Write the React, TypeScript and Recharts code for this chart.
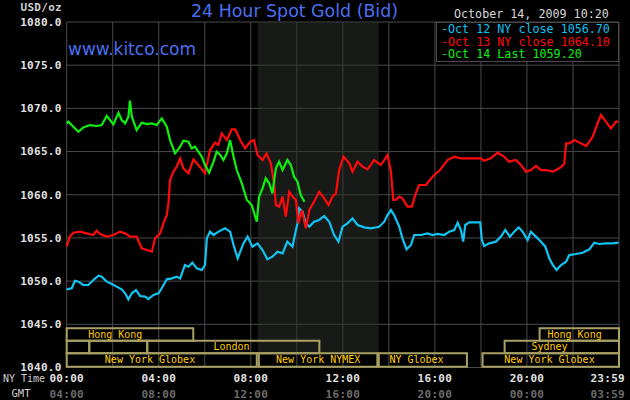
import React from "react";
import { LineChart, Line, XAxis, YAxis, CartesianGrid, ReferenceArea, Legend } from "recharts";

// hour ticks (grid every 2h, labels every 4h)
const hourTicks = [0, 2, 4, 6, 8, 10, 12, 14, 16, 18, 20, 22, 24];
const nyTimeLabels = ["00:00", "04:00", "08:00", "12:00", "16:00", "20:00", "23:59"];
const gmtLabels = ["04:00", "08:00", "12:00", "16:00", "20:00", "00:00", "03:59"];
const priceTicks = [1040, 1045, 1050, 1055, 1060, 1065, 1070, 1075, 1080];

const legendNames = ["Oct 12 NY close 1056.70", "Oct 13 NY close 1064.10", "Oct 14 Last 1059.20"];

const oct12Hours = [
  0, 0.22, 0.36, 0.51, 0.72, 0.94, 1.16, 1.38, 1.52, 1.74, 1.96, 2.17, 2.39, 2.54, 2.68, 2.83, 3.01, 3.19, 3.41,
  3.55, 3.77, 3.99, 4.13, 4.35, 4.57, 4.78, 4.93, 5.14, 5.29, 5.46, 5.65, 5.87, 6.01, 6.09, 6.23, 6.38, 6.6, 6.88,
  7.1, 7.25, 7.43, 7.68, 7.86, 8.07, 8.29, 8.51, 8.72, 8.94, 9.16, 9.38, 9.59, 9.81, 9.93, 10.03, 10.1, 10.25,
  10.39, 10.54, 10.75, 10.97, 11.19, 11.41, 11.62, 11.81, 11.99, 12.2, 12.42, 12.64, 12.93, 13.22, 13.58, 13.8,
  13.94, 14.09, 14.23, 14.45, 14.59, 14.77, 14.96, 15.1, 15.39, 15.68, 15.9, 16.12, 16.41, 16.62, 16.84, 16.99,
  17.13, 17.23, 17.32, 17.49, 17.97, 18.04, 18.14, 18.36, 18.65, 18.87, 19.06, 19.26, 19.45, 19.64, 19.81, 20.03,
  20.17, 20.39, 20.61, 20.8, 20.97, 21.12, 21.29, 21.48, 21.7, 21.84, 22.13, 22.42, 22.71, 22.93, 23.14, 23.43,
  23.72, 23.98,
];
const oct12Prices = [
  1049.05, 1049.17, 1050.05, 1049.94, 1049.55, 1049.55, 1050.13, 1050.63, 1050.52, 1049.94, 1049.67, 1049.36,
  1049.05, 1048.59, 1047.89, 1048.59, 1048.97, 1048.28, 1048.2, 1047.93, 1048.4, 1048.59, 1049.17, 1050.21,
  1050.32, 1050.52, 1050.32, 1051.87, 1051.67, 1052.14, 1051.48, 1051.29, 1051.87, 1054.95, 1055.73, 1055.34,
  1055.73, 1056.11, 1055.73, 1054.18, 1052.64, 1054.37, 1055.15, 1053.99, 1054.37, 1053.6, 1052.52, 1052.83,
  1053.41, 1053.22, 1054.57, 1053.99, 1055.53, 1056.69, 1058.43, 1058.04, 1056.69, 1056.3, 1056.88, 1057.08,
  1057.54, 1056.88, 1055.34, 1054.57, 1056.3, 1056.69, 1057.27, 1056.5, 1056.23, 1056.11, 1056.3, 1056.88,
  1057.65, 1058.23, 1057.65, 1056.3, 1054.95, 1053.68, 1054.18, 1055.34, 1055.34, 1055.53, 1055.34, 1055.46,
  1055.34, 1055.73, 1055.92, 1056.77, 1055.92, 1054.57, 1056.5, 1056.81, 1056.81, 1054.76, 1054.07, 1054.37,
  1054.57, 1055.15, 1055.92, 1055.15, 1055.73, 1056.23, 1055.73, 1054.76, 1055.73, 1055.15, 1054.57, 1053.99,
  1052.64, 1051.87, 1051.29, 1051.87, 1052.25, 1053.02, 1053.14, 1053.29, 1053.68, 1054.45, 1054.3, 1054.37,
  1054.37, 1054.45,
];

const oct13Hours = [
  0, 0.14, 0.29, 0.58, 0.87, 1.16, 1.3, 1.45, 1.74, 2.03, 2.32, 2.54, 2.75, 3.04, 3.26, 3.48, 3.7, 3.84, 4.06, 4.2,
  4.35, 4.42, 4.49, 4.64, 4.78, 4.93, 5.07, 5.29, 5.51, 5.72, 6.01, 6.23, 6.45, 6.59, 6.74, 6.96, 7.17, 7.32, 7.54,
  7.75, 7.97, 8.14, 8.29, 8.51, 8.68, 8.87, 9.01, 9.09, 9.23, 9.38, 9.52, 9.67, 9.81, 9.96, 10.07, 10.22, 10.39,
  10.54, 10.75, 10.97, 11.19, 11.38, 11.55, 11.7, 11.84, 12.03, 12.28, 12.42, 12.64, 12.86, 13.07, 13.36, 13.65,
  13.94, 14.09, 14.19, 14.3, 14.45, 14.59, 14.81, 15.0, 15.17, 15.32, 15.61, 15.9, 16.22, 16.55, 16.84, 17.13,
  17.49, 18.0, 18.14, 18.43, 18.72, 19.01, 19.23, 19.52, 19.74, 19.96, 20.17, 20.39, 20.61, 20.83, 21.12, 21.41,
  21.62, 21.7, 21.84, 22.06, 22.35, 22.57, 22.86, 23.07, 23.22, 23.43, 23.65, 23.87, 23.98,
];
const oct13Prices = [
  1054.0, 1055.15, 1055.61, 1055.73, 1055.53, 1055.34, 1055.84, 1055.46, 1055.15, 1055.34, 1055.73, 1055.53,
  1055.15, 1055.15, 1053.8, 1053.6, 1053.41, 1054.95, 1055.53, 1056.69, 1057.65, 1059.0, 1061.71, 1062.67,
  1063.25, 1064.21, 1063.06, 1062.48, 1064.1, 1063.44, 1062.48, 1065.18, 1066.03, 1065.76, 1067.11, 1066.33,
  1067.57, 1067.57, 1066.33, 1065.37, 1066.14, 1066.33, 1064.6, 1064.02, 1064.79, 1063.63, 1061.32, 1058.81,
  1058.62, 1059.78, 1057.46, 1060.35, 1059.78, 1059.39, 1056.69, 1058.23, 1056.11, 1058.23, 1059.2, 1060.35,
  1059.58, 1058.81, 1059.78, 1060.16, 1062.86, 1064.41, 1063.63, 1062.67, 1063.83, 1063.25, 1062.94, 1064.02,
  1063.44, 1064.6, 1062.67, 1059.39, 1059.39, 1059.78, 1059.58, 1058.62, 1058.62, 1060.16, 1061.13, 1061.13,
  1062.09, 1062.86, 1064.02, 1064.41, 1064.21, 1064.21, 1064.21, 1063.94, 1064.21, 1064.87, 1064.41, 1063.83,
  1064.02, 1063.44, 1062.67, 1062.86, 1063.33, 1062.86, 1062.86, 1062.67, 1063.06, 1063.56, 1065.95, 1065.95,
  1066.33, 1065.95, 1065.64, 1066.72, 1068.26, 1069.23, 1068.46, 1067.69, 1068.46, 1068.46,
];

const oct14Hours = [
  0, 0.07, 0.29, 0.51, 0.72, 1.01, 1.3, 1.52, 1.74, 1.88, 2.03, 2.25, 2.39, 2.54, 2.68, 2.75, 2.83, 3.04, 3.26,
  3.48, 3.7, 3.91, 4.13, 4.35, 4.49, 4.71, 4.93, 5.07, 5.29, 5.43, 5.58, 5.72, 5.87, 6.01, 6.19, 6.38, 6.52, 6.67,
  6.81, 6.96, 7.1, 7.25, 7.39, 7.61, 7.83, 8.04, 8.26, 8.36, 8.51, 8.65, 8.8, 8.94, 9.09, 9.23, 9.38, 9.59, 9.74,
  9.88, 10.03, 10.17, 10.33,
];
const oct14Prices = [
  1068.26, 1068.46, 1067.88, 1067.3, 1067.8, 1068.07, 1067.96, 1068.07, 1069.11, 1068.65, 1068.15, 1069.5,
  1068.65, 1068.26, 1069.04, 1070.9, 1069.04, 1067.49, 1068.34, 1068.19, 1068.26, 1068.07, 1068.84, 1067.88,
  1066.33, 1064.79, 1065.56, 1066.26, 1066.14, 1065.37, 1065.56, 1064.98, 1064.41, 1063.44, 1062.55, 1063.83,
  1064.98, 1064.6, 1064.02, 1064.79, 1066.33, 1064.41, 1062.86, 1061.32, 1059.39, 1058.81, 1056.88, 1059.78,
  1060.74, 1061.9, 1061.32, 1060.16, 1063.06, 1063.83, 1062.86, 1064.02, 1063.44, 1062.09, 1061.51, 1059.97,
  1059.2,
];

// market sessions, in NY hours
const sessions = [
  { name: "Hong Kong", start: 0, end: 5.5, row: 0, labelAt: 2.11 },
  { name: "", start: 0, end: 0.98, row: 1, labelAt: 0.5 },
  { name: "", start: 0.98, end: 3.5, row: 1, labelAt: 2 },
  { name: "London", start: 3.5, end: 10.98, row: 1, labelAt: 7.16 },
  { name: "New York Globex", start: 0, end: 8.26, row: 2, labelAt: 3.62 },
  { name: "New York NYMEX", start: 8.35, end: 13.5, row: 2, labelAt: 10.93 },
  { name: "NY Globex", start: 13.56, end: 17.39, row: 2, labelAt: 15.2 },
  { name: "New York Globex", start: 18.07, end: 24, row: 2, labelAt: 20.98 },
  { name: "Sydney", start: 19.03, end: 24, row: 1, labelAt: 20.98 },
  { name: "Hong Kong", start: 20.55, end: 24, row: 0, labelAt: 22.07 },
];
const rowEdges = [1044.55, 1043.1, 1041.65, 1040.1];
const nymexPit = [8.3, 13.56];

const toPoints = (hours: number[], prices: number[]) => hours.map((h, i) => ({ h, v: prices[i] }));
const oct12Data = toPoints(oct12Hours, oct12Prices);
const oct13Data = toPoints(oct13Hours, oct13Prices);
const oct14Data = toPoints(oct14Hours, oct14Prices);

const MONO = "'DejaVu Sans Mono', monospace";
const SANS = "'DejaVu Sans', sans-serif";

const XTick = (props: any) => {
  const { x, y, payload } = props;
  if (payload.value % 4 !== 0) return null;
  const k = payload.value / 4;
  // last label sits inside the frame
  const last = k === nyTimeLabels.length - 1;
  const tx = last ? x + 6 : x;
  const anchor = last ? "end" : "middle";
  return (
    <g>
      <text x={tx} y={y + 6.5} textAnchor={anchor} fill="#e2e2e2" fontSize={11} fontWeight="bold" fontFamily={MONO} letterSpacing={0.3}>
        {nyTimeLabels[k]}
      </text>
      <text x={tx} y={y + 22} textAnchor={anchor} fill="#6c6c6c" fontSize={11} fontWeight="bold" fontFamily={MONO} letterSpacing={0.3}>
        {gmtLabels[k]}
      </text>
    </g>
  );
};

const SessionLabel = (props: any) => {
  const { viewBox, text, frac } = props;
  if (!viewBox || !text) return null;
  return (
    <text
      x={viewBox.x + viewBox.width * frac}
      y={viewBox.y + viewBox.height / 2 + 3.5}
      textAnchor="middle"
      fill="#ffcc00"
      fontSize={10}
      fontFamily={MONO}
    >
      {text}
    </text>
  );
};

const LegendBox = (props: any) => {
  const { payload } = props;
  return (
    <div
      style={{
        boxSizing: "border-box",
        width: 183,
        height: 40,
        border: "1px solid #4a4a4a",
        background: "#000",
        padding: "0 0 0 4px",
        fontFamily: MONO,
        fontSize: 11.7,
        lineHeight: "12.5px",
      }}
    >
      {(payload || []).map((e: any) => (
        <div key={e.value} style={{ color: e.color, whiteSpace: "pre" }}>
          -{e.value}
        </div>
      ))}
    </div>
  );
};

export default function App() {
  return (
    <div style={{ position: "relative", width: 630, height: 400, background: "#000" }}>
      <style>{`body{margin:0;background:#000}`}</style>
      <LineChart width={630} height={400} margin={{ top: 22, right: 11, left: 0, bottom: 0 }}>
        <ReferenceArea x1={nymexPit[0]} x2={nymexPit[1]} y1={rowEdges[2]} y2={1080} fill="#2a302a" fillOpacity={0.55} stroke="none" />
        <CartesianGrid stroke="#4a4a4a" />
        <XAxis
          type="number"
          dataKey="h"
          domain={[0, 24]}
          ticks={hourTicks}
          interval={0}
          height={32.5}
          tickLine={false}
          axisLine={false}
          tick={<XTick />}
        />
        <YAxis
          type="number"
          domain={[1040, 1080]}
          ticks={priceTicks}
          width={66.7}
          tickLine={false}
          axisLine={false}
          tickSize={3}
          tickMargin={2}
          tickFormatter={(v: number) => v.toFixed(1)}
          tick={{ fill: "#e2e2e2", fontSize: 11, fontWeight: "bold", fontFamily: MONO, letterSpacing: 0.3 }}
        />
        {sessions.map((s, i) => (
          <ReferenceArea
            key={i}
            x1={s.start}
            x2={s.end}
            y1={rowEdges[s.row + 1]}
            y2={rowEdges[s.row]}
            fill="none"
            stroke="#a9a164"
            strokeWidth={2}
            label={<SessionLabel text={s.name} frac={(s.labelAt - s.start) / (s.end - s.start)} />}
          />
        ))}
        <Line data={oct12Data} dataKey="v" name={legendNames[0]} type="linear" stroke="#10c4f4" strokeWidth={2.2} dot={false} isAnimationActive={false} />
        <Line data={oct13Data} dataKey="v" name={legendNames[1]} type="linear" stroke="#ff0a0a" strokeWidth={2.2} dot={false} isAnimationActive={false} />
        <Line data={oct14Data} dataKey="v" name={legendNames[2]} type="linear" stroke="#10f010" strokeWidth={2.2} dot={false} isAnimationActive={false} />
        <Legend
          layout="vertical"
          align="center"
          verticalAlign="middle"
          wrapperStyle={{ position: "absolute", left: 436, top: 22, width: 183, height: 40 }}
          content={<LegendBox />}
        />
      </LineChart>
      <svg width={630} height={400} style={{ position: "absolute", left: 0, top: 0, pointerEvents: "none" }}>
        <text x={62} y={11.3} textAnchor="end" fill="#cfcfcf" fontSize={11} fontWeight="bold" fontFamily={MONO} letterSpacing={0.3}>
          USD/oz
        </text>
        <text x={294.5} y={16.7} textAnchor="middle" fill="#4b6ff2" fontSize={17.4} fontFamily={SANS}>
          24 Hour Spot Gold (Bid)
        </text>
        <text x={454} y={18.3} fill="#d8d8d8" fontSize={11.7} fontFamily={MONO}>
          October 14, 2009 10:20
        </text>
        <text x={68} y={55} fill="#4b6ff2" fontSize={17} fontFamily={SANS}>
          www.kitco.com
        </text>
        <text x={3} y={382} fill="#d0d0d0" fontSize={10} fontFamily={MONO}>
          NY Time
        </text>
        <text x={11.5} y={397} fill="#d0d0d0" fontSize={10.5} fontFamily={MONO}>
          GMT
        </text>
      </svg>
    </div>
  );
}
